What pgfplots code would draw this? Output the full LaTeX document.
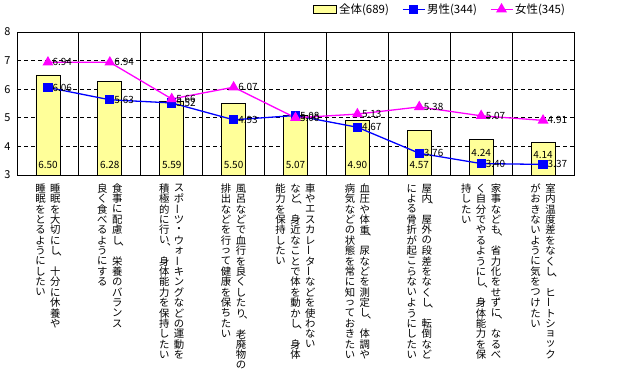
\documentclass[border=0pt]{standalone}
\usepackage{fontspec}
\setmainfont{Noto Sans CJK JP}
\usepackage{pgfplots}
\pgfplotsset{compat=1.18}
\definecolor{baryellow}{HTML}{FFFF99}
\definecolor{mymag}{RGB}{255,0,255}
\definecolor{myblue}{RGB}{0,0,255}
\pgfplotsset{mylineleg/.style={legend image code/.code={\draw[mark repeat=2,mark phase=2,##1] plot coordinates {(0bp,0bp) (11bp,0bp) (22bp,0bp)};}}}
\newlength\cw \setlength\cw{10.4bp}
\makeatletter
\protected\def\vglyph#1{%
  \ifx ー#1\rotatebox[origin=c]{90}{ー}%
  \else\ifx 、#1\kern0.5\cw\rlap{\raisebox{0.5\cw}[0pt][0pt]{、}}%
  \else #1\fi\fi}
\protected\def\vchar#1{\vbox to \cw{\vss\hbox to \cw{\hss\vglyph{#1}\hss}\vss}}
\def\vcol@#1{\ifx\relax#1\else\vchar{#1}\expandafter\vcol@\fi}
\protected\def\vcol#1{\vtop{\offinterlineskip\vcol@#1\relax}}
\protected\def\vlab#1#2{\hbox{\vcol{#2}\kern4.5bp\vcol{#1}}}
\protected\def\vlabc#1#2#3{\hbox{\vcol{#3}\kern4.5bp\vcol{#2}\kern4.5bp\vcol{#1}}}
\makeatother
\begin{document}
\begin{tikzpicture}
\path[use as bounding box] (0,0) rectangle (636bp,375bp);
\begin{axis}[
  at={(17bp,200bp)}, anchor=south west,
  scale only axis, width=557bp, height=143bp,
  xmin=0.5, xmax=9.5, ymin=3, ymax=8,
  ytick={3,4,5,6,7,8},
  xtick={1,...,9},
  minor xtick={1.5,2.5,...,8.5},
  xminorgrids, minor grid style={black, solid, line width=0.8bp},
  ymajorgrids, major grid style={black, dash pattern=on 4bp off 3bp, line width=0.8bp},
  major tick length=0, minor tick length=0,
  axis line style={black, line width=0.8bp},
  /pgf/number format/assume math mode=true,
  yticklabel style={font=\fontsize{11}{12}\selectfont, xshift=-3bp},
  xticklabels={
    {\vlab{睡眠を大切にし、十分に休養や}{睡眠をとるようにしたい}},
    {\vlab{食事に配慮し、栄養のバランス}{良く食べるようにする}},
    {\vlab{スポーツ・ウォーキングなどの運動を}{積極的に行い、身体能力を保持したい}},
    {\vlab{風呂などで血行を良くしたり、老廃物の}{排出などを行って健康を保ちたい}},
    {\vlabc{車やエスカレーターなどを使わない}{など、身近なことで体を動かし、身体}{能力を保持したい}},
    {\vlab{血圧や体重、尿などを測定し、体調や}{病気などの状態を常に知っておきたい}},
    {\vlab{屋内、屋外の段差をなくし、転倒など}{による骨折が起こらないようにしたい}},
    {\vlabc{家事なども、省力化をせずに、なるべ}{く自分でやるようにし、身体能力を保}{持したい}},
    {\vlab{室内温度差をなくし、ヒートショック}{がおきないように気をつけたい}}},
  xticklabel style={anchor=north, inner sep=0pt, yshift=-8bp,
    font=\fontsize{10.4}{12}\selectfont},
  legend style={at={(0.993,1)}, anchor=south east, yshift=13bp, draw=none, fill=none,
    font=\fontsize{11.5}{12}\selectfont, legend columns=3,
    /tikz/every even column/.append style={column sep=11bp}},
  legend cell align=left,
  nodes near coords style={font=\fontsize{10}{11}\selectfont, inner sep=1bp,
    /pgf/number format/fixed, /pgf/number format/fixed zerofill, /pgf/number format/precision=2},
]
\addplot[ybar, bar width=24bp, fill=baryellow, draw=black, line width=0.8bp,
  legend image code/.code={\draw[fill=baryellow, draw=black, line width=0.8bp] (0bp,-4bp) rectangle (23bp,4bp);}]
  coordinates {(1,6.50) (2,6.28) (3,5.59) (4,5.50) (5,5.07) (6,4.90) (7,4.57) (8,4.24) (9,4.14)};
\addlegendentry{全体(689)}
\addplot[myblue, line width=1.3bp, mark=square*, mark size=4bp, mark options={solid},
  nodes near coords, point meta=y, nodes near coords style={anchor=west, xshift=3bp, text=black},
  mylineleg]
  coordinates {(1,6.06) (2,5.63) (3,5.52) (4,4.93) (5,5.08) (6,4.67) (7,3.76) (8,3.40) (9,3.37)};
\addlegendentry{男性(344)}
\addplot[mymag, line width=1.3bp, mark=triangle*, mark size=5bp, mark options={solid},
  nodes near coords, point meta=y, nodes near coords style={anchor=west, xshift=3bp, text=black},
  mylineleg]
  coordinates {(1,6.94) (2,6.94) (3,5.66) (4,6.07) (5,5.00) (6,5.13) (7,5.38) (8,5.07) (9,4.91)};
\addlegendentry{女性(345)}
\addplot[draw=none, forget plot, nodes near coords, point meta=explicit,
  nodes near coords style={anchor=center, text=black}]
  coordinates {(1,3.35)[6.50] (2,3.35)[6.28] (3,3.35)[5.59] (4,3.35)[5.50] (5,3.35)[5.07]
    (6,3.35)[4.90] (7,3.35)[4.57] (8,3.78)[4.24] (9,3.70)[4.14]};
\node[font=\fontsize{10}{11}\selectfont, inner sep=0pt] at ([xshift=-6bp,yshift=-28bp]rel axis cs:0,0) {(点)};
\end{axis}
\end{tikzpicture}
\end{document}
